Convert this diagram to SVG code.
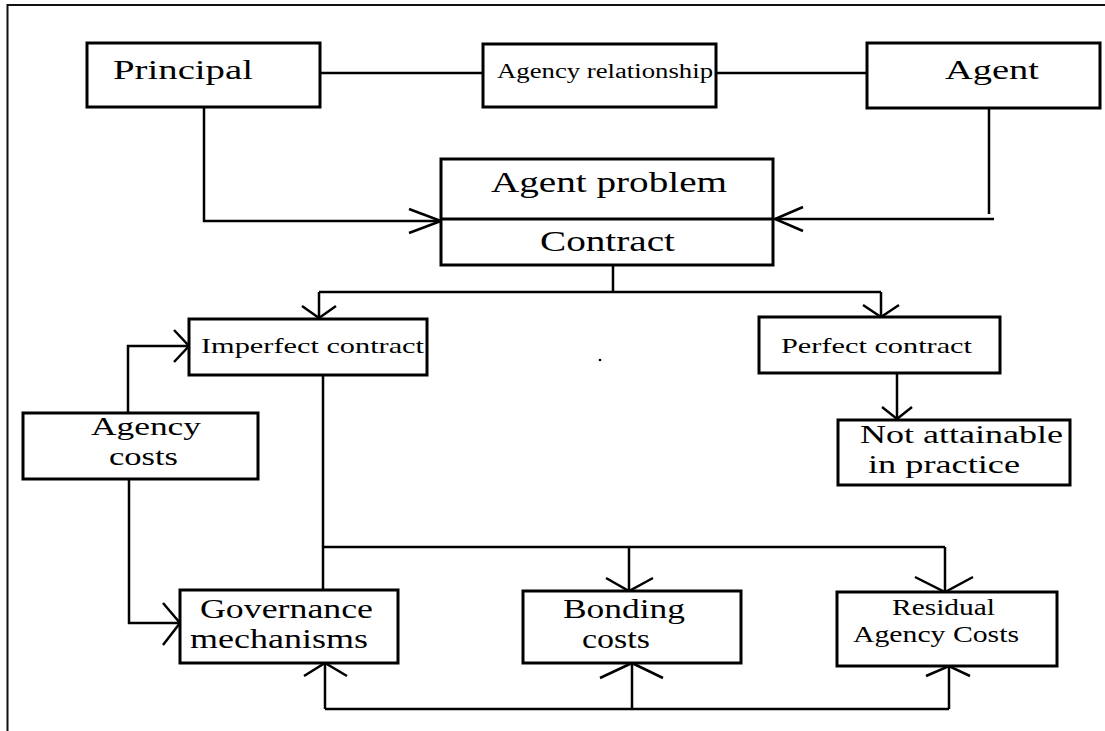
<svg xmlns="http://www.w3.org/2000/svg" width="1105" height="731" viewBox="0 0 1105 731">
<style>
.box{fill:#fff;stroke:#000;stroke-width:3}
.ln{fill:none;stroke:#000;stroke-width:2.5}
.ah{fill:none;stroke:#000;stroke-width:2.5;stroke-linejoin:miter}
.t{font-family:"Liberation Serif","Times New Roman",serif;fill:#000}
</style>
<rect x="0" y="0" width="1105" height="731" fill="#fff"/>
<g id="frame">
<path d="M7.5,731 V5 H1105" fill="none" stroke="#111" stroke-width="2"/>
</g>
<g id="connectors">
<path class="ln" d="M320,73 H483 M716,73 H867"/>
<path class="ln" d="M204,107 V221 H441"/>
<polyline class="ah" points="409,209 441,221 409,233"/>
<path class="ln" d="M989,108 V214 M994,219 H775"/>
<polyline class="ah" points="803,207 775,219 803,231"/>
<path class="ln" d="M613,265 V292 M319,292 H881 M319,292 V318 M881,292 V317"/>
<polyline class="ah" points="302,306 319,318 336,306"/>
<polyline class="ah" points="863,305 881,317 899,305"/>
<path class="ln" d="M897,373 V419"/>
<polyline class="ah" points="882,407 897,419 912,407"/>
<path class="ln" d="M128,413 V346 H189"/>
<polyline class="ah" points="174,330 189,346 174,362"/>
<path class="ln" d="M129,479 V623 H180"/>
<polyline class="ah" points="163,603 180,623 163,645"/>
<path class="ln" d="M323,375 V590 M323,547 H945 M629,547 V591 M945,547 V592"/>
<polyline class="ah" points="606,578 629,591 653,578"/>
<polyline class="ah" points="915,577 945,592 973,577"/>
<path class="ln" d="M325,709 H949 M325,709 V663 M632,709 V663 M949,709 V666"/>
<polyline class="ah" points="304,676 325,663 347,676"/>
<polyline class="ah" points="600,678 632,663 663,678"/>
<polyline class="ah" points="926,676 949,666 970,676"/>
</g>
<circle cx="600" cy="360" r="1.3" fill="#000"/>
<g id="principal">
<rect class="box" x="87" y="43" width="233" height="64"/>
<text class="t" x="113" y="79" font-size="28" textLength="140" lengthAdjust="spacingAndGlyphs">Principal</text>
</g>
<g id="agency-relationship">
<rect class="box" x="483" y="44" width="233" height="63"/>
<text class="t" x="497" y="78" font-size="20" textLength="216" lengthAdjust="spacingAndGlyphs">Agency relationship</text>
</g>
<g id="agent">
<rect class="box" x="867" y="43" width="233" height="65"/>
<text class="t" x="945" y="79" font-size="28" textLength="94" lengthAdjust="spacingAndGlyphs">Agent</text>
</g>
<g id="agent-problem">
<rect class="box" x="441" y="159" width="332" height="106"/>
<line x1="441" y1="219" x2="773" y2="219" stroke="#000" stroke-width="3"/>
<text class="t" x="491" y="192" font-size="29" textLength="236" lengthAdjust="spacingAndGlyphs">Agent problem</text>
<text class="t" x="540" y="251" font-size="29" textLength="135" lengthAdjust="spacingAndGlyphs">Contract</text>
</g>
<g id="imperfect-contract">
<rect class="box" x="189" y="319" width="238" height="56"/>
<text class="t" x="201" y="353" font-size="22" textLength="223" lengthAdjust="spacingAndGlyphs">Imperfect contract</text>
</g>
<g id="perfect-contract">
<rect class="box" x="759" y="317" width="241" height="56"/>
<text class="t" x="781" y="353" font-size="22" textLength="191" lengthAdjust="spacingAndGlyphs">Perfect contract</text>
</g>
<g id="not-attainable">
<rect class="box" x="838" y="420" width="232" height="65"/>
<text class="t" x="860" y="443" font-size="26" textLength="203" lengthAdjust="spacingAndGlyphs">Not attainable</text>
<text class="t" x="868" y="473" font-size="26" textLength="152" lengthAdjust="spacingAndGlyphs">in practice</text>
</g>
<g id="agency-costs">
<rect class="box" x="23" y="413" width="235" height="66"/>
<text class="t" x="91" y="435" font-size="26" textLength="110" lengthAdjust="spacingAndGlyphs">Agency</text>
<text class="t" x="109" y="465" font-size="26" textLength="69" lengthAdjust="spacingAndGlyphs">costs</text>
</g>
<g id="governance">
<rect class="box" x="180" y="590" width="218" height="73"/>
<text class="t" x="200" y="618" font-size="27" textLength="173" lengthAdjust="spacingAndGlyphs">Governance</text>
<text class="t" x="190" y="648" font-size="27" textLength="178" lengthAdjust="spacingAndGlyphs">mechanisms</text>
</g>
<g id="bonding">
<rect class="box" x="523" y="591" width="218" height="72"/>
<text class="t" x="563" y="618" font-size="27" textLength="122" lengthAdjust="spacingAndGlyphs">Bonding</text>
<text class="t" x="582" y="648" font-size="27" textLength="68" lengthAdjust="spacingAndGlyphs">costs</text>
</g>
<g id="residual">
<rect class="box" x="837" y="592" width="220" height="74"/>
<text class="t" x="892" y="615" font-size="23" textLength="103" lengthAdjust="spacingAndGlyphs">Residual</text>
<text class="t" x="853" y="642" font-size="23" textLength="166" lengthAdjust="spacingAndGlyphs">Agency Costs</text>
</g>
</svg>
